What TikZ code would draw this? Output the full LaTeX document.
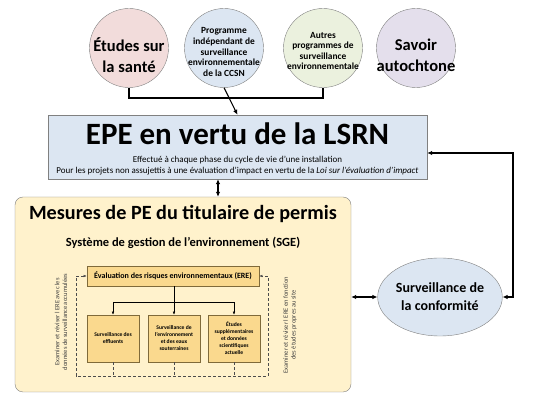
\documentclass[tikz,border=0pt]{standalone}
\usepackage{fontspec}
\setmainfont{Carlito}
\usetikzlibrary{arrows.meta,shapes.geometric}

\definecolor{pinkfill}{HTML}{F2DCDB}
\definecolor{bluefill}{HTML}{DCE6F2}
\definecolor{greenfill}{HTML}{EBF1DE}
\definecolor{lilacfill}{HTML}{E4DFEC}
\definecolor{creamfill}{HTML}{FFF2CC}
\definecolor{ochrefill}{HTML}{FAD98E}
\definecolor{edgegray}{HTML}{808080}
\definecolor{ochreedge}{HTML}{7F6A3A}

\begin{document}
\begin{tikzpicture}[x=1pt,y=-1pt,
	source/.style={circle, draw=edgegray, minimum size=79pt, inner sep=0pt},
	big/.style={align=center, font=\fontsize{16.5}{21}\selectfont\bfseries},
	small/.style={align=center, font=\fontsize{9.4}{10.6}\selectfont\bfseries},
	link/.style={line width=1.1pt, -{Latex[length=5pt,width=4.5pt]}},
	twolink/.style={line width=1.1pt, {Latex[length=5pt,width=4.5pt]}-{Latex[length=5pt,width=4.5pt]}},
	ereitem/.style={draw=ochreedge, fill=ochrefill, line width=0.6pt, minimum width=52pt, minimum height=47pt, inner sep=1pt, align=center, font=\fontsize{5.6}{7}\selectfont\bfseries},
	inner/.style={line width=0.5pt, -{Latex[length=3pt,width=2.6pt]}},
	loopline/.style={line width=0.5pt, dash pattern=on 3pt off 2pt, draw=black!70}
]
\useasboundingbox (0,0) rectangle (539,411);

% sources
\node[source, fill=pinkfill] (sante) at (129,48) {};
\node[big] (santetext) at (129,55) {Études sur\\la santé};
\node[source, fill=bluefill] (ccsn) at (224,48) {};
\node[small] (ccsntext) at (224,52) {Programme\\indépendant de\\surveillance\\environnementale\\de la CCSN};
\node[source, fill=greenfill] (autres) at (323,48) {};
\node[small] (autrestext) at (323,51) {Autres\\programmes de\\surveillance\\environnementale};
\node[source, fill=lilacfill] (savoir) at (416,48) {};
\node[big] (savoirtext) at (416,55) {Savoir\\autochtone};

% EPE
\node[draw=edgegray, fill=bluefill, minimum width=379pt, minimum height=64pt] (epe) at (237.5,147) {};
\node[font=\fontsize{31}{33}\selectfont\bfseries] (epetitle) at (237.5,134) {EPE en vertu de la LSRN};
\node[font=\fontsize{9}{10}\selectfont] (epeline1) at (237.5,160) {Effectué à chaque phase du cycle de vie d’une installation};
\node[font=\fontsize{9}{10}\selectfont] (epeline2) at (237.5,171.5) {Pour les projets non assujettis à une évaluation d’impact en vertu de la \textit{Loi sur l’évaluation d’impact}};

\coordinate (bus) at (224,98);
\draw[line width=1.1pt] (sante.south) |- (bus) -| (autres.south);
\draw[link] (ccsn.south) -- (epe.north);

% licensee
\node[draw=edgegray, fill=creamfill, rounded corners=8pt, minimum width=336pt, minimum height=195pt] (pe) at (183,294.5) {};
\node[font=\fontsize{20.2}{24}\selectfont\bfseries] (petitle) at (183,214) {Mesures de PE du titulaire de permis};
\node[font=\fontsize{12.5}{14}\selectfont\bfseries] (sge) at (183,243) {Système de gestion de l’environnement (SGE)};

\coordinate (mid) at (218,188);
\draw[twolink] (mid |- epe.south) -- (mid |- pe.north);

% ERE
\node[draw=ochreedge, fill=ochrefill, line width=0.6pt, minimum width=172pt, minimum height=20pt, font=\fontsize{8}{9}\selectfont\bfseries] (ere) at (173,276) {Évaluation des risques environnementaux (ERE)};
\node[ereitem] (effluents) at (113,338.5) {Surveillance des\\effluents};
\node[ereitem] (eaux) at (174,338.5) {Surveillance de\\l’environnement\\et des eaux\\souterraines};
\node[ereitem] (etudes) at (234,338.5) {Études\\supplémentaires\\et données\\scientifiques\\actuelle};

\coordinate (fork) at (173,302);
\draw[inner] (ere.south -| eaux.north) -- (eaux.north);
\draw[inner] (fork -| effluents.north) -- (fork -| etudes.north) -- (etudes.north);
\draw[inner] (fork -| effluents.north) -- (effluents.north);

% review loop
\coordinate (loopsw) at (76,376);
\coordinate (loopne) at (268,276);
\foreach \b in {effluents, eaux, etudes}
	\draw[loopline] (\b.south) -- (\b.south |- loopsw);
\draw[loopline, {Latex[length=3pt,width=2.6pt]}-{Latex[length=3pt,width=2.6pt]}] (ere.west |- loopne) -- (loopsw |- loopne) -- (loopsw) -- (loopsw -| loopne) -- (loopne) -- (ere.east |- loopne);

\node[rotate=90, align=center, text=black!75, font=\fontsize{6.5}{7.6}\selectfont] (reviewleft) at (61,322) {Examiner et réviser l ERE avec les\\données de surveillance accumulées};
\node[rotate=90, align=center, text=black!75, font=\fontsize{6.5}{7.6}\selectfont] (reviewright) at (290,325) {Examiner et réviser l ERE en fonction\\des études propres au site};

% compliance
\node[ellipse, draw=edgegray, fill=bluefill, minimum width=113pt, minimum height=78pt, inner sep=0pt, align=center, font=\fontsize{14}{18}\selectfont\bfseries] (conf) at (440,297) {Surveillance de\\la conformité};
\draw[twolink] (conf.west -| pe.east) -- (conf.west);
\coordinate (corner) at (513,153);
\draw[twolink] (corner -| epe.east) -- (corner) |- (conf.east);

\end{tikzpicture}
\end{document}
